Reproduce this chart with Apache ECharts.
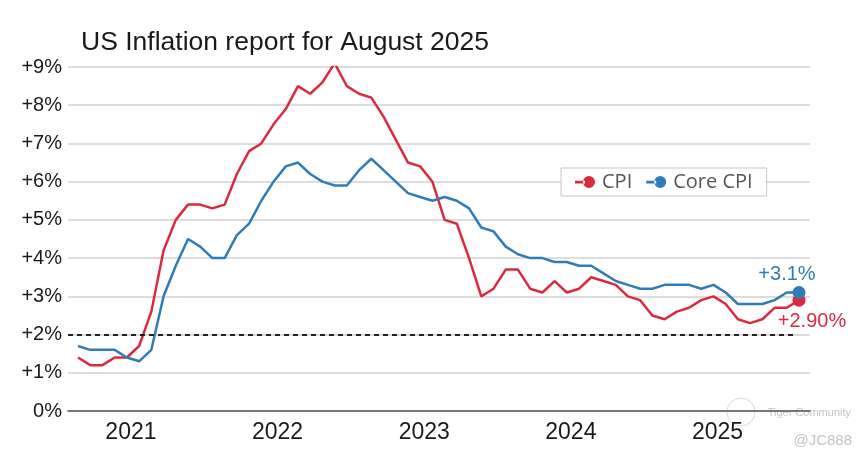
<!DOCTYPE html>
<html>
<head>
<meta charset="utf-8">
<script src="https://cdn.jsdelivr.net/npm/echarts@6/dist/echarts.min.js"></script>
<style>
html,body{margin:0;padding:0;background:#fff;}
#chart{width:868px;height:463px;}
</style>
</head>
<body>
<div id="chart"></div>
<script>
// ---- data ----
const titleText = 'US Inflation report for August 2025';
const months = [
  '2020-09','2020-10','2020-11','2020-12',
  '2021-01','2021-02','2021-03','2021-04','2021-05','2021-06','2021-07','2021-08','2021-09','2021-10','2021-11','2021-12',
  '2022-01','2022-02','2022-03','2022-04','2022-05','2022-06','2022-07','2022-08','2022-09','2022-10','2022-11','2022-12',
  '2023-01','2023-02','2023-03','2023-04','2023-05','2023-06','2023-07','2023-08','2023-09','2023-10','2023-11','2023-12',
  '2024-01','2024-02','2024-03','2024-04','2024-05','2024-06','2024-07','2024-08','2024-09','2024-10','2024-11','2024-12',
  '2025-01','2025-02','2025-03','2025-04','2025-05','2025-06','2025-07','2025-08'
];
const cpi = [
  1.4,1.2,1.2,1.4,
  1.4,1.7,2.6,4.2,5.0,5.4,5.4,5.3,5.4,6.2,6.8,7.0,
  7.5,7.9,8.5,8.3,8.6,9.1,8.5,8.3,8.2,7.7,7.1,6.5,
  6.4,6.0,5.0,4.9,4.0,3.0,3.2,3.7,3.7,3.2,3.1,3.4,
  3.1,3.2,3.5,3.4,3.3,3.0,2.9,2.5,2.4,2.6,2.7,2.9,
  3.0,2.8,2.4,2.3,2.4,2.7,2.7,2.9
];
const coreCpi = [
  1.7,1.6,1.6,1.6,
  1.4,1.3,1.6,3.0,3.8,4.5,4.3,4.0,4.0,4.6,4.9,5.5,
  6.0,6.4,6.5,6.2,6.0,5.9,5.9,6.3,6.6,6.3,6.0,5.7,
  5.6,5.5,5.6,5.5,5.3,4.8,4.7,4.3,4.1,4.0,4.0,3.9,
  3.9,3.8,3.8,3.6,3.4,3.3,3.2,3.2,3.3,3.3,3.3,3.2,
  3.3,3.1,2.8,2.8,2.8,2.9,3.1,3.1
];
const seriesNames = ['CPI', 'Core CPI'];
const endLabels = ['+2.90%', '+3.1%'];
const yTickLabels = ['0%','+1%','+2%','+3%','+4%','+5%','+6%','+7%','+8%','+9%'];
const targetRate = 2;

// ---- chart ----
const RED = '#d92a3e';
const BLUE = '#2f7cb8';
const lastIdx = months.length - 1;
const janIdx = months.map((m, i) => m.endsWith('-01') ? i + 0.33 : -1).filter(i => i >= 0);
const toPairs = arr => arr.map((v, i) => [i, v]);
const legendIcon = 'path://M0,4.8h10v2.6h-10z M8,6a6,6 0 1,0 12,0a6,6 0 1,0 -12,0z';

const chart = echarts.init(document.getElementById('chart'), null, {renderer: 'canvas'});
chart.setOption({
  animation: false,
  backgroundColor: '#fff',
  title: {
    text: titleText,
    left: 81, top: 29, padding: 0,
    textStyle: {fontFamily: 'Liberation Sans, Arial, sans-serif', fontSize: 26.5, fontWeight: 'normal', color: '#1a1a1a'}
  },
  legend: {
    data: seriesNames.map(n => ({name: n, icon: legendIcon})),
    left: 561, top: 168,
    padding: [4, 14, 4, 14],
    itemGap: 14, itemWidth: 20, itemHeight: 12,
    backgroundColor: '#fff', borderColor: '#c8c8c8', borderWidth: 1,
    textStyle: {fontFamily: 'Open Sans, sans-serif', fontSize: 20, color: '#555', padding: [0, 0, 0, 2]}
  },
  grid: {left: 68, right: 58, top: 67, bottom: 52, containLabel: false},
  xAxis: {
    type: 'value',
    min: -0.82, max: 59.9,
    splitLine: {show: false},
    axisTick: {show: false},
    axisLine: {show: true, onZero: false, lineStyle: {color: '#555', width: 1.5}},
    axisLabel: {
      customValues: janIdx,
      formatter: v => months[Math.round(v)].slice(0, 4),
      fontFamily: 'Liberation Sans, Arial, sans-serif', fontSize: 23, color: '#1a1a1a', margin: 10
    }
  },
  yAxis: {
    type: 'value', min: 0, max: 9, interval: 1,
    axisLine: {show: false}, axisTick: {show: false},
    splitLine: {lineStyle: {color: '#d2d2d2', width: 1.5}},
    axisLabel: {
      formatter: v => yTickLabels[Math.round(v)],
      fontFamily: 'Liberation Sans, Arial, sans-serif', fontSize: 20, color: '#1a1a1a', margin: 6,
      padding: [4, 0, 0, 0]
    }
  },
  series: [
    {
      name: seriesNames[0], type: 'line', data: toPairs(cpi),
      symbol: 'circle', showSymbol: false,
      lineStyle: {color: RED, width: 2.5}, itemStyle: {color: RED},
      z: 3,
      markLine: {
        silent: true, symbol: ['none', 'none'],
        lineStyle: {color: '#222', type: [5, 4], width: 2},
        label: {show: false},
        data: [[{coord: [-0.82, targetRate]}, {coord: [58.7, targetRate]}]]
      },
      markPoint: {
        silent: true,
        data: [{
          coord: [lastIdx, cpi[lastIdx]], symbol: 'circle', symbolSize: 13,
          itemStyle: {color: RED},
          label: {show: true, formatter: endLabels[0], position: 'inside', offset: [13, 21],
            fontFamily: 'Liberation Sans, Arial, sans-serif', fontSize: 20, color: RED}
        }]
      }
    },
    {
      name: seriesNames[1], type: 'line', data: toPairs(coreCpi),
      symbol: 'circle', showSymbol: false,
      lineStyle: {color: BLUE, width: 2.5}, itemStyle: {color: BLUE},
      z: 4,
      markPoint: {
        silent: true,
        data: [{
          coord: [lastIdx, coreCpi[lastIdx]], symbol: 'circle', symbolSize: 13,
          itemStyle: {color: BLUE},
          label: {show: true, formatter: endLabels[1], position: 'inside', offset: [-12, -18],
            fontFamily: 'Liberation Sans, Arial, sans-serif', fontSize: 20, color: BLUE}
        }]
      }
    }
  ],
  graphic: [
    {type: 'circle', shape: {cx: 741, cy: 412, r: 14}, style: {fill: 'none', stroke: '#d8d8d8', lineWidth: 1}, silent: true},
    {type: 'text', right: 17, top: 407, style: {text: 'Tiger Community', fontFamily: 'Liberation Sans, Arial, sans-serif', fontSize: 11, fill: '#c4c4c4'}, silent: true},
    {type: 'text', right: 16, top: 433, style: {text: '@JC888', fontFamily: 'Liberation Sans, Arial, sans-serif', fontSize: 15, fill: '#c4c4c4'}, silent: true}
  ]
});
</script>
</body>
</html>
